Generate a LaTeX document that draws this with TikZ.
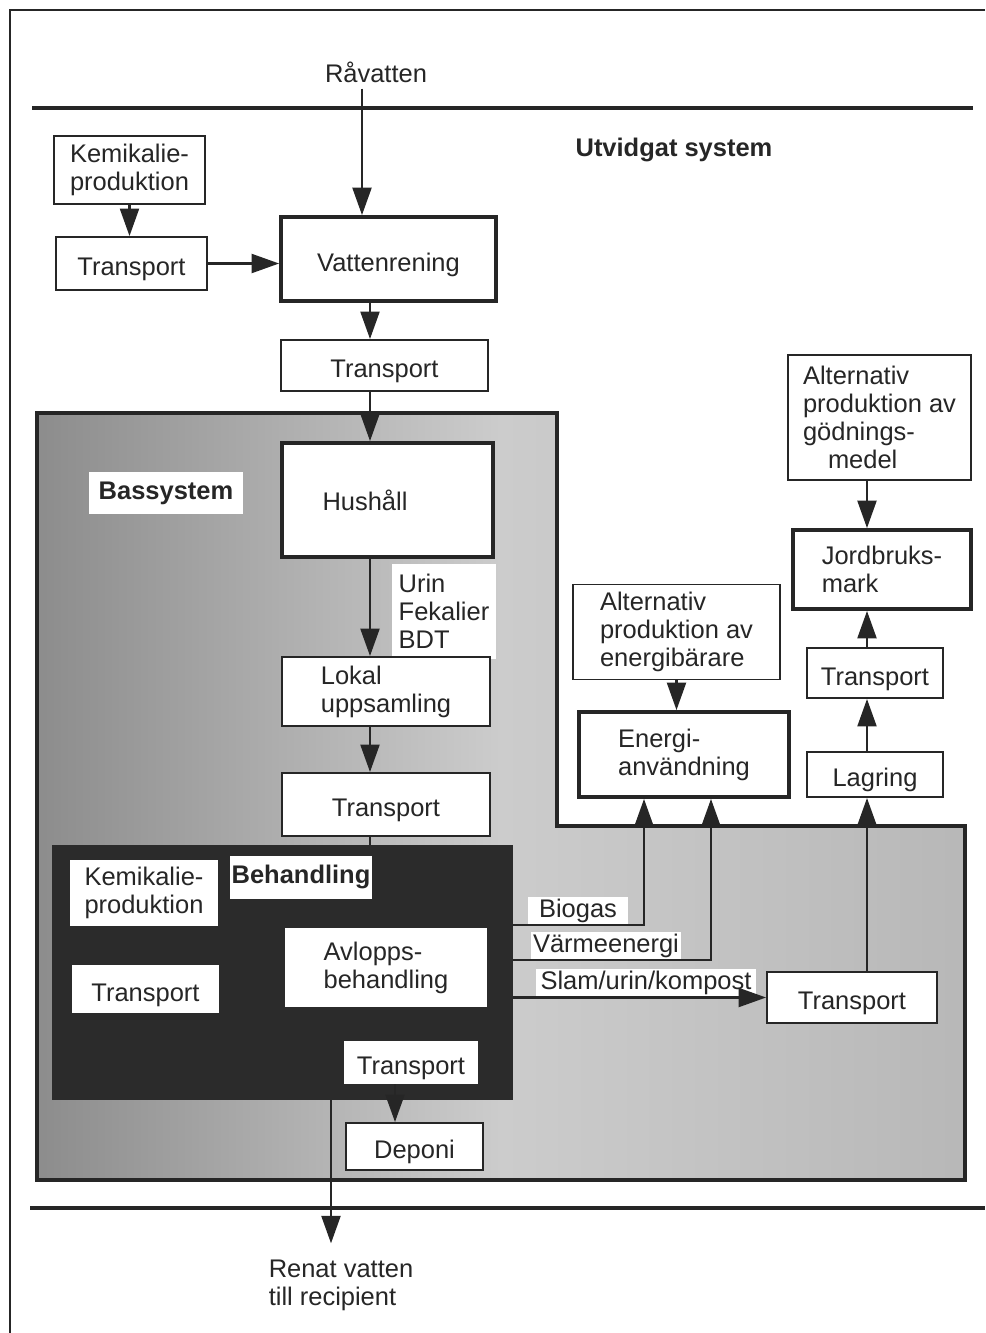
\documentclass[tikz,border=0pt]{standalone}
\usepackage{fontspec}
\setmainfont{Liberation Sans}
\usetikzlibrary{arrows.meta, positioning}
\newcommand{\figfont}{\fontsize{14.5}{16}\selectfont}
\begin{document}
\begin{tikzpicture}[x=0.02cm, y=-0.02cm, font=\figfont, text=black!85,
    box/.style={draw=black!85, line width=1.1pt, fill=white, align=left, inner sep=2pt},
    tbox/.style={box, line width=2.2pt},
    lbl/.style={fill=white, inner sep=1pt, align=left},
    low/.style={text height=14pt, text depth=0pt},
    bold/.style={font=\figfont\bfseries},
    lin/.style={draw=black!85, line width=1.3pt},
    arr/.style={lin, -{Triangle[length=0.55cm, width=0.38cm]}}]
  \useasboundingbox (0,0) rectangle (985,1333);

  % frame and system limits
  \draw[line width=1pt, black!85] (985,10) -- (10,10) -- (10,1333);
  \draw[line width=2.8pt, black!85] (32,108) -- (973,108);
  \draw[line width=2.8pt, black!85] (30,1208) -- (985,1208);

  % base system area
  \draw[line width=1.8pt, draw=black!85, left color=black!45, right color=black!28, middle color=black!20]
    (37,413) -- (557,413) -- (557,826) -- (965,826) -- (965,1180) -- (37,1180) -- cycle;
  \node[fill=black!83, minimum width=9.22cm, minimum height=5.1cm, inner sep=0pt] (beh) at (282.5,972.5) {};

  % texts
  \node (rav) at (376,72) {Råvatten};
  \node[bold] (utv) at (674,150) {Utvidgat system};
  \node[align=left] (renat) at (341,1285) {Renat vatten\\till recipient};
  \node[lbl, bold, minimum width=3.1cm, minimum height=0.84cm] (bas) at (166,493) {Bassystem};
  \node[lbl, bold, minimum width=2.76cm, minimum height=0.86cm] (behlbl) at (301,877) {Behandling};
  \node[lbl, minimum width=2.1cm, minimum height=1.9cm] (urin) at (444,611) {Urin\\Fekalier\\BDT};

  % upper chain
  \node[box, minimum width=3.02cm, minimum height=1.36cm] (kem1) at (129.5,170) {Kemikalie-\\produktion};
  \node[box, low, minimum width=3.02cm, minimum height=1.06cm] (transp1) at (131.5,263.5) {Transport};
  \node[tbox, low, minimum width=4.3cm, minimum height=1.68cm] (vatten) at (388.5,259) {Vattenrening};
  \node[box, low, minimum width=4.14cm, minimum height=1.02cm] (transp2) at (384.5,365.5) {Transport};
  \node[tbox, text width=2.6cm, minimum width=4.22cm, minimum height=2.28cm] (hush) at (387.5,500) {Hushåll};
  \node[box, minimum width=4.16cm, minimum height=1.38cm] (lokal) at (386,691.5) {Lokal\\uppsamling};
  \node[box, low, minimum width=4.16cm, minimum height=1.26cm] (transp3) at (386,804.5) {Transport};

  % treatment
  \node[lbl, minimum width=2.96cm, minimum height=1.32cm] (kem2) at (144,893) {Kemikalie-\\produktion};
  \node[lbl, low, minimum width=2.94cm, minimum height=0.96cm] (transp4) at (145.5,989) {Transport};
  \node[lbl, minimum width=4.04cm, minimum height=1.58cm] (avlopp) at (386,967.5) {Avlopps-\\behandling};
  \node[lbl, low, minimum width=2.68cm, minimum height=0.86cm] (transp5) at (411,1062.5) {Transport};
  \node[box, low, minimum width=2.74cm, minimum height=0.94cm] (deponi) at (414.5,1146.5) {Deponi};

  % products
  \node[lbl, minimum width=2.0cm] (biogas) at (578,911) {Biogas};
  \node[lbl, minimum width=3.0cm] (vaerme) at (606,946) {Värmeenergi};
  \node[lbl, minimum width=4.4cm] (slam) at (646,983) {Slam/urin/kompost};

  % right side
  \node[box, low, minimum width=3.4cm, minimum height=1.02cm] (transp6) at (852,997.5) {Transport};
  \node[box, low, minimum width=2.72cm, minimum height=0.9cm] (lag) at (875,774.5) {Lagring};
  \node[box, low, minimum width=2.72cm, minimum height=1.0cm] (transp7) at (875,673) {Transport};
  \node[tbox, minimum width=3.56cm, minimum height=1.58cm] (jord) at (882,569.5) {Jordbruks-\\mark};
  \node[box, minimum width=3.66cm, minimum height=2.5cm] (altgod) at (879.5,417.5) {Alternativ\\produktion av\\gödnings-\\\hspace*{0.5cm}medel};
  \node[box, minimum width=4.14cm, minimum height=1.9cm] (altenergi) at (676.5,632) {Alternativ\\produktion av\\energibärare};
  \node[tbox, minimum width=4.2cm, minimum height=1.7cm] (energi) at (684,754.5) {Energi-\\användning};

  % spines for the vertical flows
  \coordinate (rx) at (362,0);
  \coordinate (sp) at (370,0);
  \coordinate (dx) at (395,0);
  \coordinate (outx) at (331,0);
  \coordinate (rsp) at (867,0);

  % connectors
  \draw[arr] (rav.south -| rx) -- (vatten.north -| rx);
  \draw[arr] (kem1.south -| kem1) -- (transp1.north -| kem1);
  \draw[arr] (transp1.east) -- (transp1.east -| vatten.west);
  \draw[arr] (vatten.south -| sp) -- (transp2.north -| sp);
  \draw[arr] (transp2.south -| sp) -- (hush.north -| sp);
  \draw[arr] (hush.south -| sp) -- (lokal.north -| sp);
  \draw[arr] (lokal.south -| sp) -- (transp3.north -| sp);
  \draw[lin] (transp3.south -| sp) -- (beh.north -| sp);
  \draw[arr] (transp5.south -| dx) -- (deponi.north -| dx);
  \draw[arr, shorten >=0.2cm] (beh.south -| outx) -- (renat.north -| outx);

  \draw[arr] (beh.east |- biogas.south) -| ([xshift=-0.8cm]energi.south);
  \draw[arr] (beh.east |- vaerme.south) -| ([xshift=0.54cm]energi.south);
  \draw[arr] (beh.east |- transp6.west) -- (transp6.west);
  \draw[arr] (altenergi.south) -- (altenergi.south |- energi.north);

  \draw[arr] (altgod.south -| rsp) -- (jord.north -| rsp);
  \draw[arr] (transp7.north -| rsp) -- (jord.south -| rsp);
  \draw[arr] (lag.north -| rsp) -- (transp7.south -| rsp);
  \draw[arr] (transp6.north -| rsp) -- (lag.south -| rsp);
\end{tikzpicture}
\end{document}
